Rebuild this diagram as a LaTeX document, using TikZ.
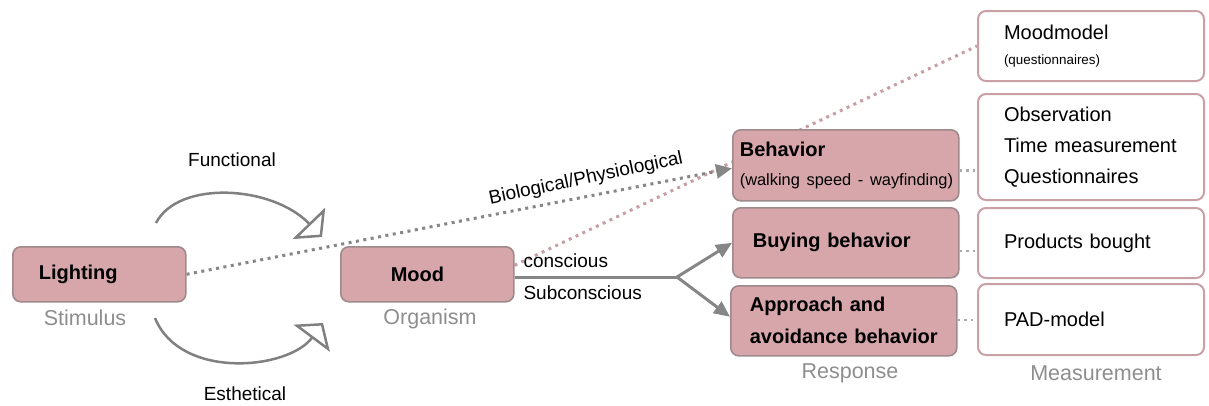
\documentclass[tikz,border=0pt]{standalone}
\usepackage{fontspec}
\setmainfont{Liberation Sans}
\usetikzlibrary{arrows.meta,calc}
\pgfdeclarelayer{back}
\pgfdeclarelayer{bg}
\pgfsetlayers{back,bg,main}
\definecolor{pinkfill}{HTML}{D6A6AA}
\definecolor{pinkline}{HTML}{9E8A8C}
\definecolor{wline}{HTML}{C9A0A6}
\definecolor{lgray}{HTML}{868686}
\definecolor{pdot}{HTML}{C79EA3}
\definecolor{lbl}{HTML}{8E8E8E}
\begin{document}
\begin{tikzpicture}[x=1pt,y=-1pt,
 box/.style={draw, rounded corners=8pt, line width=1.6pt, anchor=north west, align=left, inner ysep=0pt, font=\fontsize{20}{31}\selectfont},
 pbox/.style={box, fill=pinkfill, draw=pinkline},
 wbox/.style={box, fill=white, draw=wline, line width=2pt},
 gl/.style={text=lbl, font=\fontsize{21.5}{26}\selectfont},
 tl/.style={font=\fontsize{19}{23}\selectfont},
 gdot/.style={draw=lgray, line width=3pt, dash pattern=on 3pt off 4.5pt},
 pdotted/.style={draw=pdot, line width=3pt, dash pattern=on 3pt off 4.5pt},
 sdot/.style={draw=lgray!70, line width=2.5pt, dash pattern=on 2.5pt off 4pt},
 conn/.style={draw=lgray, line width=3pt},
 fill tip/.style={-{Triangle[length=16pt,width=14pt]}},
 curv/.style={draw=gray, line width=2.5pt, -{Triangle[open, length=19pt, width=45pt]}},
]
\useasboundingbox (0,0) rectangle (1209,405);
\begin{pgfonlayer}{back}
\fill[white] (0,0) rectangle (1209,405);
\end{pgfonlayer}

% stimulus / organism
\node[pbox, minimum width=173, minimum height=55, text width=121, inner xsep=26] (L) at (12,246) {\bfseries Lighting};
\node[pbox, minimum width=173, minimum height=55, text width=73, inner xsep=50] (M) at (340,246) {\bfseries Mood};

% responses
\node[pbox, minimum width=226, minimum height=71, text width=212, inner xsep=7, font=\fontsize{20}{29}\selectfont] (B) at (732,129) {{\bfseries Behavior}\\\mbox{\fontsize{16.4}{20}\selectfont\mdseries(walking speed - wayfinding)}};
\node[pbox, minimum width=226, minimum height=70, text width=186, inner xsep=20] (Buy) at (732,207) {\bfseries Buying behavior};
\node[pbox, minimum width=226, minimum height=70, text width=188, inner xsep=19, font=\fontsize{20}{32}\selectfont\bfseries] (App) at (730,285) {Approach and\\avoidance behavior};

% measurements
\node[wbox, minimum width=226, minimum height=70, text width=174, inner xsep=26, font=\fontsize{20}{25}\selectfont] (MM) at (977,10) {Moodmodel\\{\fontsize{13.4}{16}\selectfont (questionnaires)}};
\node[wbox, minimum width=226, minimum height=106, text width=174, inner xsep=26, font=\fontsize{20}{31}\selectfont] (Obs) at (977,93) {Observation\\Time measurement\\Questionnaires};
\node[wbox, minimum width=226, minimum height=70, text width=174, inner xsep=26] (Prod) at (977,207) {Products bought};
\node[wbox, minimum width=226, minimum height=71, text width=174, inner xsep=26] (PAD) at (977,283) {PAD-model};

% gray labels
\node[gl] (stim) at (85,318) {Stimulus};
\node[gl] (org) at (430,319) {Organism};
\node[gl] (resp) at (850,373) {Response};
\node[gl] (meas) at (1096,373) {Measurement};

% text labels
\node[tl] (func) at (232,160) {Functional};
\node[tl] (esth) at (245,394) {Esthetical};
\node[tl, anchor=west] (cons) at (520,261) {conscious};
\node[tl, anchor=west] (subc) at (520,293) {Subconscious};
\node[tl, rotate=12] (bio) at (586,179) {Biological/Physiological};

% connectors
\begin{pgfonlayer}{bg}
\draw[pdotted] ($(M.east)+(0,-9)$) -- (MM.west);
\end{pgfonlayer}
\draw[gdot, fill tip, lgray] (L.east) -- ([yshift=-3pt]B.west);

\coordinate (fork) at (677,277);
\draw[conn] (M.east |- fork) -- (fork);
\draw[conn, fill tip] (fork) -- (Buy.west);
\draw[conn, fill tip] (fork) -- ([yshift=4pt]App.west);

\draw[sdot] ([yshift=-5pt]B.east) -- ([yshift=-5pt]B.east -| Obs.west);
\draw[sdot] ([yshift=-8pt]Buy.east) -- ([yshift=-8pt]Buy.east -| Prod.west);
\draw[sdot] ([yshift=1pt]App.east) -- ([yshift=1pt]App.east -| PAD.west);

\coordinate (f1) at (156,223);
\coordinate (f2) at (322,237);
\coordinate (e1) at (155,318);
\coordinate (e2) at (323,323);
\draw[curv] (f1) .. controls (178,180) and (272,185) .. (f2);
\draw[curv] (e1) .. controls (180,380) and (288,370) .. (e2);
\end{tikzpicture}
\end{document}
